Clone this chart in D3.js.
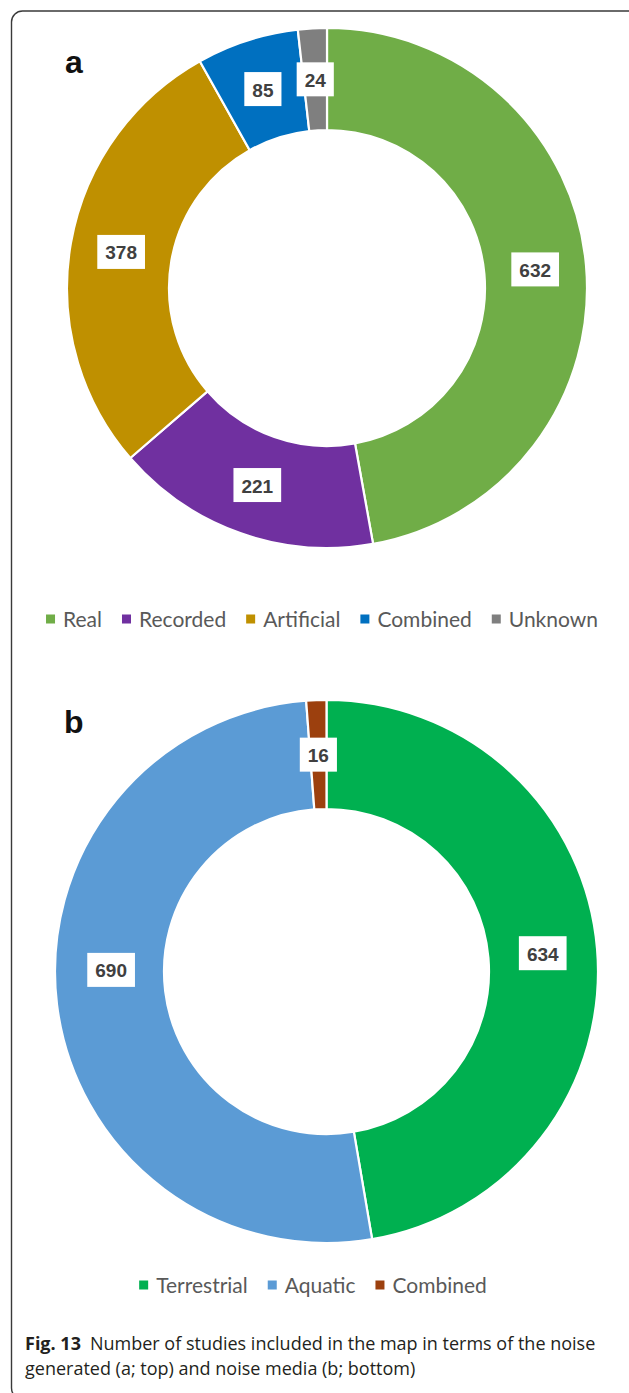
<!DOCTYPE html>
<html>
<head>
<meta charset="utf-8">
<script src="https://cdn.jsdelivr.net/npm/d3@7"></script>
<style>
  html, body { margin: 0; padding: 0; background: #fff; }
  svg { display: block; }
</style>
</head>
<body>
<svg id="chart" width="629" height="1393"></svg>
<script>
// ---- Data ----
const categoriesA = ["Real", "Recorded", "Artificial", "Combined", "Unknown"];
const valuesA = [632, 221, 378, 85, 24];
const colorsA = ["#70AD47", "#7030A0", "#BF9000", "#0070C0", "#7F7F7F"];

const categoriesB = ["Terrestrial", "Aquatic", "Combined"];
const valuesB = [634, 690, 16];
const colorsB = ["#00B050", "#5B9BD5", "#9C400E"];

const panelLabels = ["a", "b"];
const captionBold = "Fig. 13";
const captionLine1 = "Number of studies included in the map in terms of the noise";
const captionLine2 = "generated (a; top) and noise media (b; bottom)";

// ---- Drawing ----
const svg = d3.select("#chart");

// frame
svg.append("rect")
  .attr("x", 11.5).attr("y", 11)
  .attr("width", 630).attr("height", 1388)
  .attr("rx", 11).attr("ry", 11)
  .attr("fill", "none")
  .attr("stroke", "#3a3a3a")
  .attr("stroke-width", 1.4);

function donut(cfg) {
  const { cats, vals, colors, cx, cy, R, r, legendY, label, labelX, labelY } = cfg;
  const nudge = cfg.labelNudge || {};
  const data = cats.map((c, i) => ({ cat: c, value: vals[i], color: colors[i] }));
  const pie = d3.pie().value(d => d.value).sort(null)
    .startAngle(0).endAngle(2 * Math.PI);
  const arcs = pie(data);
  const arc = d3.arc().innerRadius(r).outerRadius(R);
  const mid = (r + R) / 2;
  const labelArc = d3.arc().innerRadius(mid).outerRadius(mid);

  const g = svg.append("g").attr("transform", `translate(${cx},${cy})`);
  g.selectAll("path.slice").data(arcs).join("path")
    .attr("class", "slice")
    .attr("d", arc)
    .attr("fill", d => d.data.color)
    .attr("stroke", "#fff")
    .attr("stroke-width", 2.2)
    .attr("stroke-linejoin", "round");

  // data labels
  const lg = g.selectAll("g.lbl").data(arcs).join("g")
    .attr("class", "lbl")
    .attr("transform", d => {
      const [x, y] = labelArc.centroid(d);
      const dy = nudge[d.data.cat] || 0;
      return `translate(${x},${y + dy})`;
    });
  lg.each(function(d) {
    const sel = d3.select(this);
    const t = sel.append("text")
      .attr("text-anchor", "middle")
      .attr("dominant-baseline", "central")
      .attr("font-family", "'Liberation Sans', Arial, sans-serif")
      .attr("font-weight", "bold")
      .attr("font-size", 19)
      .attr("fill", "#404040")
      .attr("y", 1)
      .text(d.data.value);
    const w = t.node().getComputedTextLength();
    sel.insert("rect", "text")
      .attr("x", -w / 2 - 8).attr("y", -17)
      .attr("width", w + 16).attr("height", 34)
      .attr("fill", "#fff");
  });

  // panel label
  svg.append("text")
    .attr("x", labelX).attr("y", labelY)
    .attr("font-family", "'Liberation Sans', Arial, sans-serif")
    .attr("font-weight", "bold")
    .attr("font-size", 32)
    .attr("fill", "#111")
    .text(label);

  // legend
  const leg = svg.append("g");
  const items = leg.selectAll("g").data(data).join("g");
  const sq = 9, gapText = 8, gapItem = 20;
  let x = 0;
  items.each(function(d) {
    const it = d3.select(this);
    it.append("rect")
      .attr("x", 0).attr("y", -sq / 2 + 1)
      .attr("width", sq).attr("height", sq)
      .attr("fill", d.color);
    const t = it.append("text")
      .attr("x", sq + gapText)
      .attr("dominant-baseline", "central")
      .attr("font-family", "Lato, 'Open Sans', sans-serif")
      .attr("font-size", 21)
      .attr("fill", "#595959")
      .text(d.cat);
    const w = t.node().getComputedTextLength();
    it.attr("transform", `translate(${x},0)`);
    x += sq + gapText + w + gapItem;
  });
  const total = x - gapItem;
  leg.attr("transform", `translate(${cfg.legendCx - total / 2},${legendY})`);
}

donut({
  cats: categoriesA, vals: valuesA, colors: colorsA,
  cx: 327, cy: 288, R: 260, r: 158,
  legendY: 618, legendCx: 322,
  label: panelLabels[0], labelX: 65, labelY: 73
});

donut({
  cats: categoriesB, vals: valuesB, colors: colorsB,
  cx: 326.5, cy: 971.5, R: 271.5, r: 162.5,
  legendY: 1284, legendCx: 313,
  label: panelLabels[1], labelX: 64, labelY: 733,
  labelNudge: { "Aquatic": -28 }
});

// caption
const cap = svg.append("text")
  .attr("x", 25).attr("y", 1350)
  .attr("font-family", "'Open Sans', 'Noto Sans', sans-serif")
  .attr("font-size", 18)
  .attr("fill", "#231f20");
cap.append("tspan").attr("font-weight", "bold").text(captionBold);
cap.append("tspan").attr("dx", 9).text(captionLine1);
const capW = cap.node().getComputedTextLength();
if (capW > 596) cap.attr("textLength", 596).attr("lengthAdjust", "spacingAndGlyphs");

const cap2 = svg.append("text")
  .attr("x", 25).attr("y", 1375)
  .attr("font-family", "'Open Sans', 'Noto Sans', sans-serif")
  .attr("font-size", 18)
  .attr("fill", "#231f20")
  .text(captionLine2);
const cap2W = cap2.node().getComputedTextLength();
if (capW > 596) cap2.attr("textLength", cap2W * 596 / capW).attr("lengthAdjust", "spacingAndGlyphs");
</script>
</body>
</html>
